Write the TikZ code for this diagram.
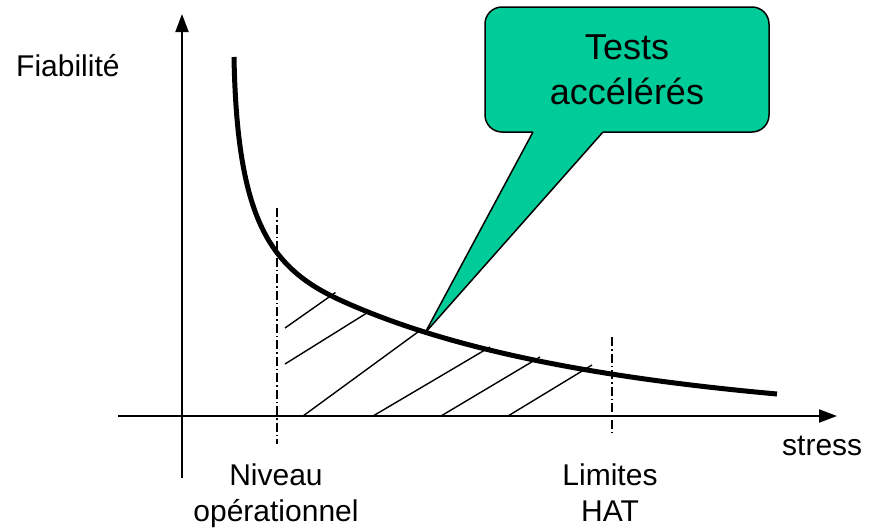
\documentclass[tikz,border=0pt]{standalone}
\usepackage{fontspec}
\setmainfont{Liberation Sans}
\usetikzlibrary{arrows.meta}
\definecolor{calloutgreen}{RGB}{0,204,153}
\begin{document}
\begin{tikzpicture}[x=1pt,y=-1pt,
  axis/.style={line width=2pt,-{Triangle[length=18pt,width=13pt]}},
  curvestyle/.style={line width=5pt},
  hatch/.style={line width=1.4pt},
  dashdot/.style={line width=1.5pt,dash pattern=on 9pt off 3pt on 1.5pt off 3pt},
  lbl/.style={font=\fontsize{30}{36}\selectfont,align=center,inner sep=0pt},
  calloutbox/.style={draw=black,line width=1.5pt,fill=calloutgreen,rounded corners=17pt,
    minimum width=284pt,minimum height=125pt,align=center,inner sep=0pt,
    font=\fontsize{36}{45}\selectfont},
]
\useasboundingbox (0,0) rectangle (871,528);
% axes
\coordinate (ybot) at (182,478);
\coordinate (ytop) at (182,14);
\coordinate (xleft) at (118,416);
\coordinate (xright) at (837,416);
\draw[axis] (ybot) -- (ytop);
\draw[axis] (xleft) -- (xright);
% hatching
\draw[hatch] (285,328) -- (335.5,292.5);
\draw[hatch] (285,364) -- (370,311);
\draw[hatch] (303,416) -- (422,329);
\draw[hatch] (373,416) -- (490,347);
\draw[hatch] (441,416) -- (540,357);
\draw[hatch] (508,416) -- (592,365);
% dash-dot limits
\coordinate (opTop) at (277,208);
\coordinate (opBot) at (277,444);
\coordinate (hatTop) at (612,337);
\coordinate (hatBot) at (612,432);
\draw[dashdot] (opTop) -- (opBot);
\draw[dashdot] (hatTop) -- (hatBot);
% reliability curve
\coordinate (cStart) at (234,57);
\coordinate (cMid) at (340,300);
\coordinate (cEnd) at (777,394);
\draw[curvestyle] (cStart) .. controls (237,220) and (270,268) .. (cMid)
  .. controls (450,350.3) and (600,378) .. (cEnd);
% callout
\node[calloutbox] (callout) at (627,69.5) {Tests\\accélérés};
\coordinate (tip) at (425,333);
\coordinate (tailL) at (533,132);
\coordinate (tailR) at (603,132);
\fill[calloutgreen] (tip) -- (tailL) -- (533,128) -- (603,128) -- (tailR) -- cycle;
\draw[line width=1.5pt,line join=round] (tailL) -- (tip) -- (tailR);
% labels
\node[lbl,anchor=base west] (fiab) at (16,76) {Fiabilité};
\node[lbl,anchor=base west] (stress) at (782,455) {stress};
\node[lbl] (niveau) at (276,496) {Niveau\\opérationnel};
\node[lbl] (limites) at (610,493) {Limites\\HAT};
\end{tikzpicture}
\end{document}
